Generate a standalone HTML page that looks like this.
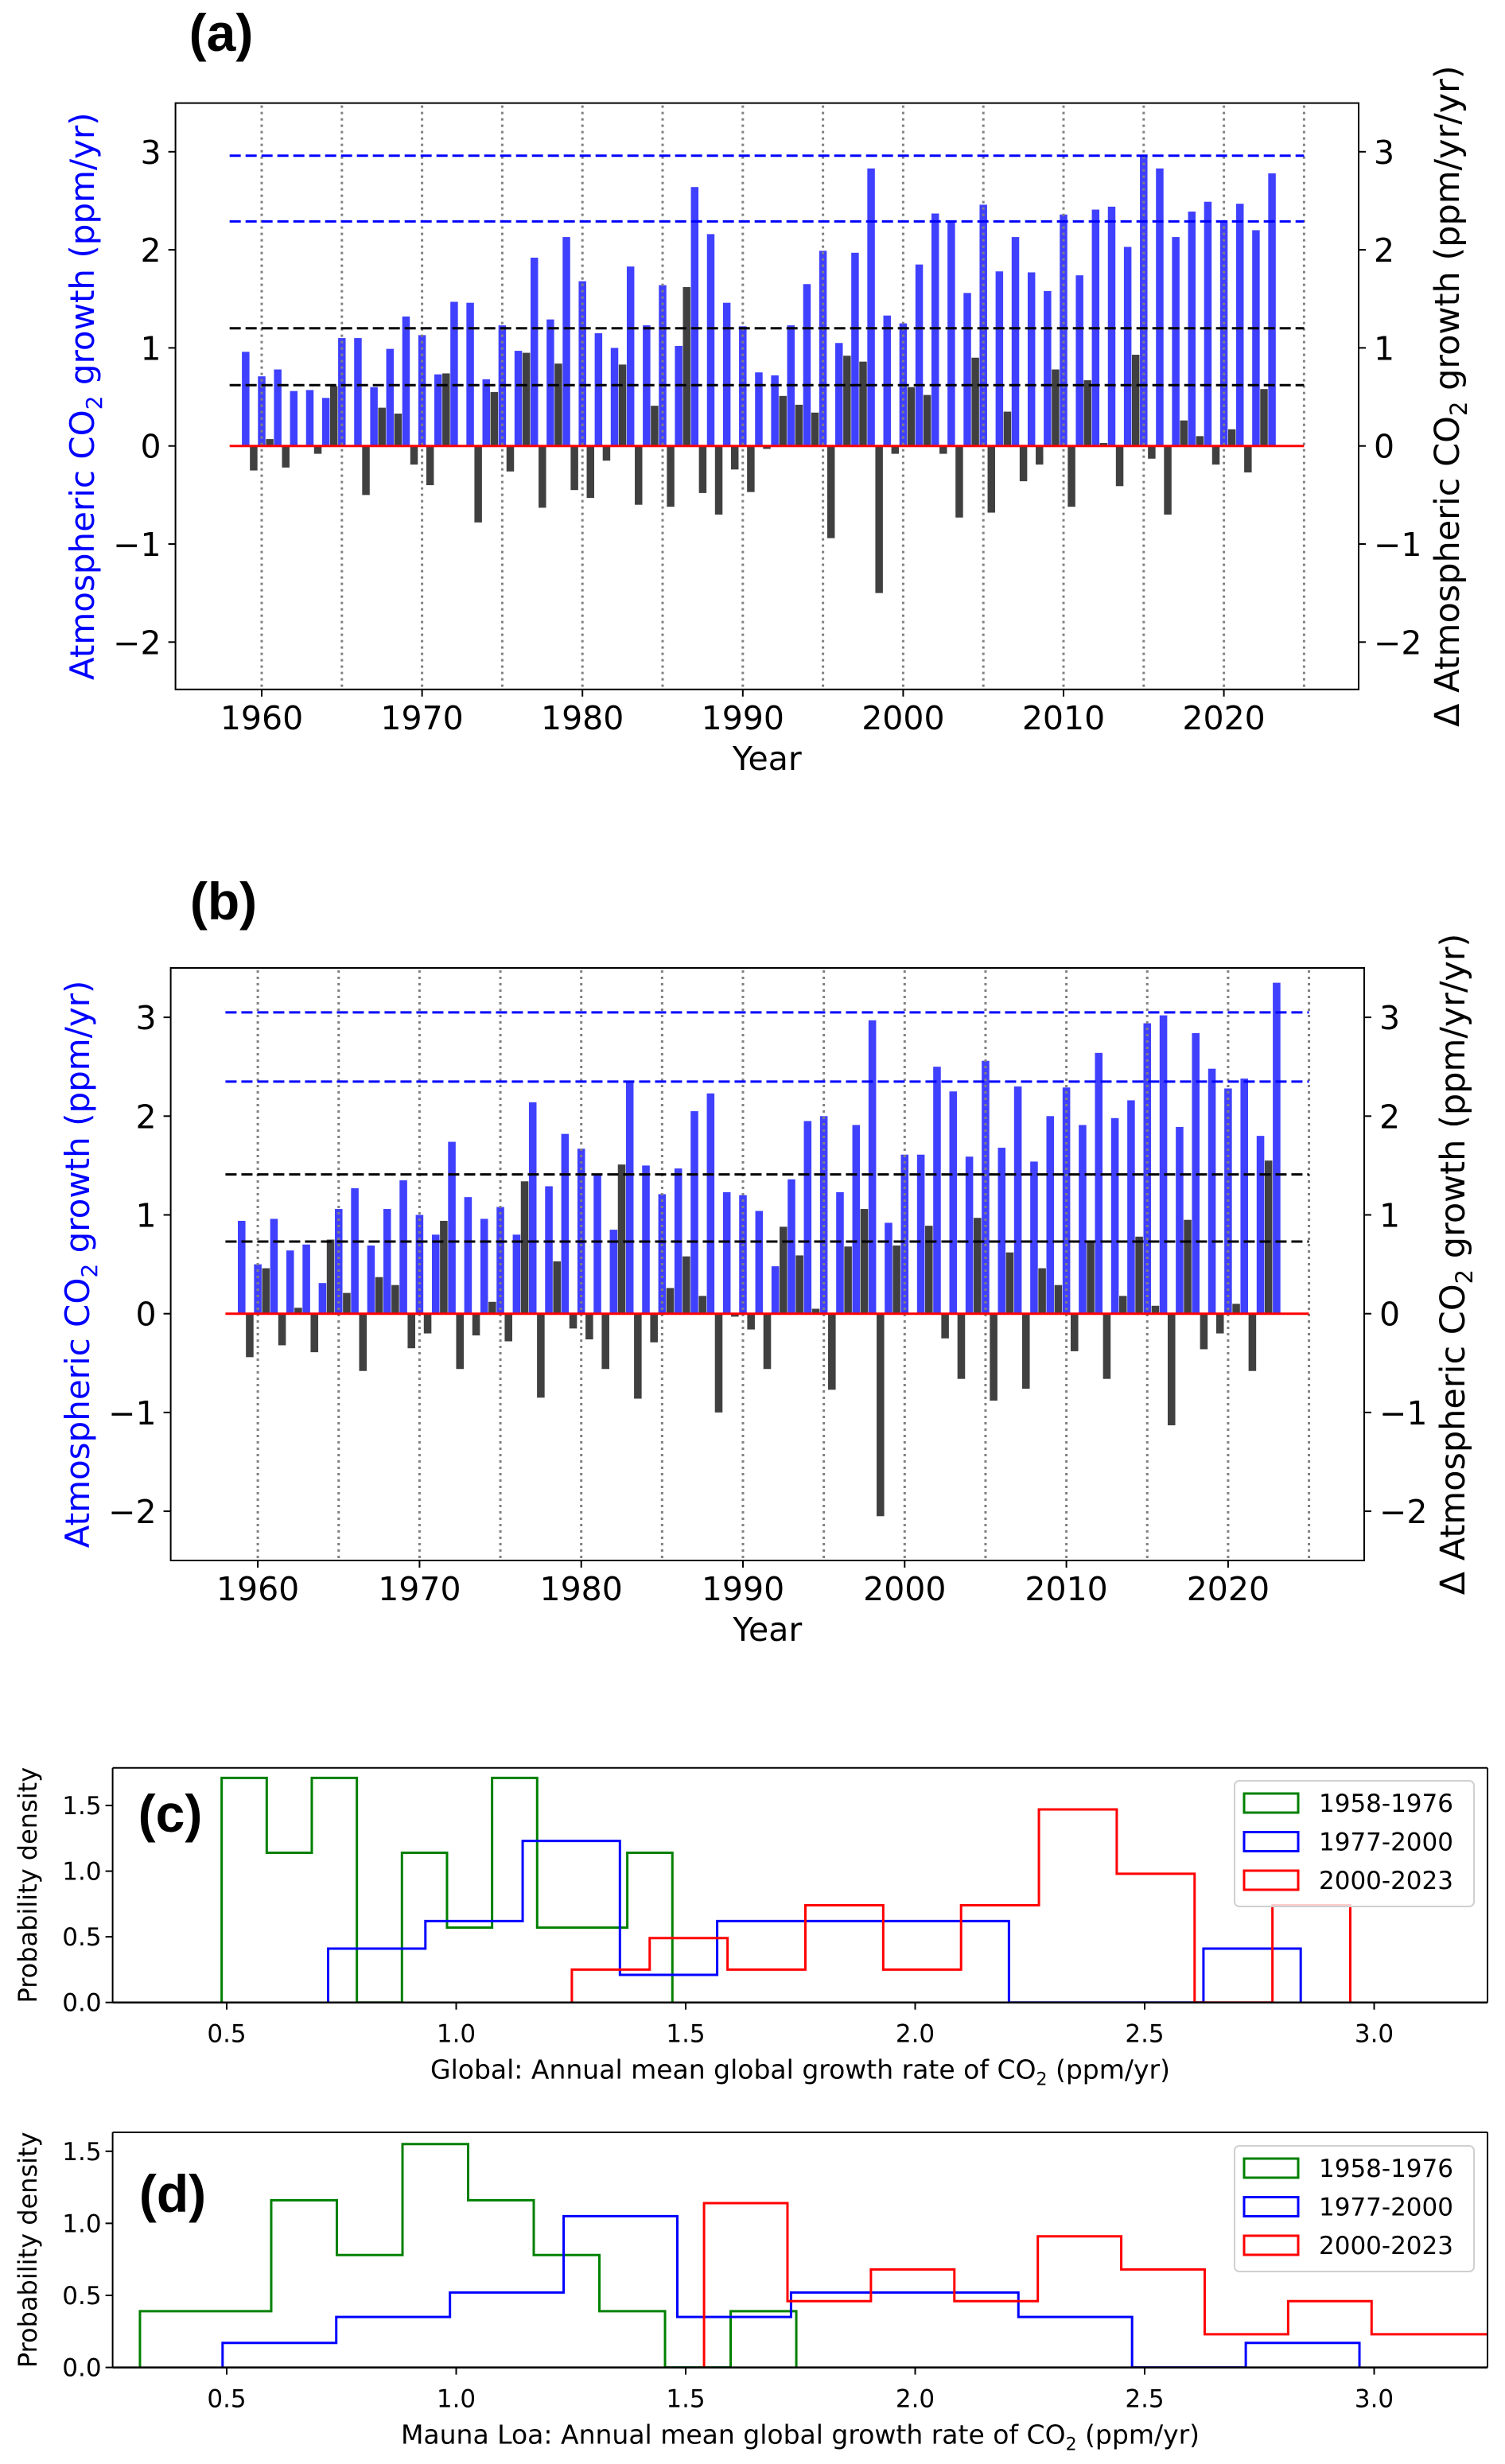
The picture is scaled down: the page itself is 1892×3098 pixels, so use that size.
<!DOCTYPE html>
<html><head><meta charset="utf-8"><style>
html,body{margin:0;padding:0;background:#fff}
svg{display:block;font-family:"DejaVu Sans","Liberation Sans",sans-serif}
</style></head><body>
<svg id="fig" xmlns="http://www.w3.org/2000/svg" width="1892" height="3098" viewBox="0 0 1892 3098">
<rect x="0" y="0" width="1892" height="3098" fill="#fff"/>
</svg>
<script>
// ---- Panel (a): global growth (ppm/yr), 1959..2023 ----
const yearsStart = 1959;
const growthA = [0.96,0.71,0.78,0.56,0.57,0.49,1.10,1.10,0.60,0.99,1.32,1.13,0.73,1.47,1.46,0.68,1.23,0.97,1.92,1.29,2.13,1.68,1.15,1.00,1.83,1.23,1.64,1.02,2.64,2.16,1.46,1.22,0.75,0.72,1.23,1.65,1.99,1.05,1.97,2.83,1.33,1.25,1.85,2.37,2.29,1.56,2.46,1.78,2.13,1.77,1.58,2.36,1.74,2.41,2.44,2.03,2.96,2.83,2.13,2.39,2.49,2.30,2.47,2.20,2.78];
const blueRefA = [2.96,2.29];
const blackRefA = [1.20,0.62];
// ---- Panel (b): Mauna Loa growth ----
const growthB = [0.94,0.50,0.96,0.64,0.70,0.31,1.06,1.27,0.69,1.06,1.35,1.00,0.80,1.74,1.18,0.96,1.08,0.80,2.14,1.29,1.82,1.67,1.41,0.85,2.36,1.50,1.21,1.47,2.05,2.23,1.23,1.20,1.04,0.48,1.36,1.95,2.00,1.23,1.91,2.97,0.92,1.61,1.61,2.50,2.25,1.59,2.56,1.68,2.30,1.54,2.00,2.29,1.91,2.64,1.98,2.16,2.94,3.02,1.89,2.84,2.48,2.28,2.38,1.80,3.35];
const blueRefB = [3.05,2.35];
const blackRefB = [1.41,0.73];
const yTicksBar = [-2,-1,0,1,2,3];
const xTicksBar = [1960,1970,1980,1990,2000,2010,2020];
// ---- Panel (c) histograms ----
const cGreenStart = 0.489, cGreenWidth = 0.0982;
const cGreen = [1.71,1.14,1.71,0,1.14,0.57,1.71,0.57,0.57,1.14];
const cBlueStart = 0.721, cBlueWidth = 0.2119;
const cBlue = [0.41,0.62,1.23,0.21,0.62,0.62,0.62,0,0,0.41];
const cRedStart = 1.252, cRedWidth = 0.1696;
const cRed = [0.25,0.49,0.25,0.74,0.25,0.74,1.47,0.98,0,0.74];
// ---- Panel (d) histograms ----
const dGreenStart = 0.311, dGreenWidth = 0.143;
const dGreen = [0.39,0.39,1.16,0.78,1.55,1.16,0.78,0.39,0,0.39];
const dBlueStart = 0.491, dBlueWidth = 0.2477;
const dBlue = [0.17,0.35,0.52,1.05,0.35,0.52,0.52,0.35,0,0.17];
const dRedStart = 1.540, dRedWidth = 0.1818;
const dRed = [1.14,0.46,0.68,0.46,0.91,0.68,0.23,0.46,0.23,0.23];
const histXTicks = [0.5,1.0,1.5,2.0,2.5,3.0];
const histYTicks = [0.0,0.5,1.0,1.5];
const legendLabels = ["1958-1976","1977-2000","2000-2023"];

const NS="http://www.w3.org/2000/svg";
const svg=document.getElementById('fig');
function mk(tag,attrs,parent){const e=document.createElementNS(NS,tag);for(const k in attrs)e.setAttribute(k,attrs[k]);(parent||svg).appendChild(e);return e;}
function txt(s,attrs,parent){const e=mk('text',attrs,parent);e.textContent=s;return e;}
function fmtMinus(v){return v<0?'\u2212'+Math.abs(v):String(v);}

function barPanel(P){
  const g=mk('g',{});
  
  
  const xs=y=>P.x0+(y-1960)*P.pxYr;
  const ys=v=>P.y0-v*P.pxU;
  const clipId=P.name+'-clip';
  const cp=mk('clipPath',{id:clipId},g);mk('rect',{x:P.L,y:P.T,width:P.R-P.L,height:P.B-P.T},cp);
  const plot=mk('g',{'clip-path':'url(#'+clipId+')'},g);
  const bw=0.47;
  P.growth.forEach((v,i)=>{
    const yr=yearsStart+i;
    const r=mk('rect',{x:xs(yr-bw/2),y:Math.min(ys(v),ys(0)),width:bw*P.pxYr,height:Math.abs(ys(v)-ys(0)),fill:'#4040ff'},plot);
    
    
  });
  const delta=P.growth.slice(1).map((v,i)=>v-P.growth[i]);
  delta.forEach((d,i)=>{
    const yr=yearsStart+i+0.5;
    const r=mk('rect',{x:xs(yr-bw/2),y:Math.min(ys(d),ys(0)),width:bw*P.pxYr,height:Math.abs(ys(d)-ys(0)),fill:'#404040'},plot);
    
    
  });
  for(let yr=1960;yr<=2025;yr+=5){
    const l=mk('line',{x1:xs(yr),x2:xs(yr),y1:P.T+3,y2:P.B-3,stroke:'#808080','stroke-width':3,'stroke-dasharray':'3 5'},plot);
    
    
  }
  P.blueRef.forEach((v,i)=>{
    const l=mk('line',{x1:xs(1958),x2:xs(2025),y1:ys(v),y2:ys(v),stroke:'#0000ff','stroke-width':3,'stroke-dasharray':'14 6'},plot);
    
    
  });
  P.blackRef.forEach((v,i)=>{
    const l=mk('line',{x1:xs(1958),x2:xs(2025),y1:ys(v),y2:ys(v),stroke:'#000','stroke-width':3,'stroke-dasharray':'14 6'},plot);
    
    
  });
  const z=mk('line',{x1:xs(1958),x2:xs(2025),y1:ys(0),y2:ys(0),stroke:'#ff0000','stroke-width':3},plot);
  
  
  const fr=mk('rect',{x:P.L,y:P.T,width:P.R-P.L,height:P.B-P.T,fill:'none',stroke:'#000','stroke-width':2},g);
  
  
  yTicksBar.forEach(v=>{
    mk('line',{x1:P.L-9,x2:P.L,y1:ys(v),y2:ys(v),stroke:'#000','stroke-width':2},g);
    mk('line',{x1:P.R,x2:P.R+9,y1:ys(v),y2:ys(v),stroke:'#000','stroke-width':2},g);
    const t1=txt(fmtMinus(v),{x:P.L-18,y:ys(v)+15,'font-size':41,'text-anchor':'end',fill:'#000'},g);
    
    
    const t2=txt(fmtMinus(v),{x:P.R+19,y:ys(v)+15,'font-size':41,'text-anchor':'start',fill:'#000'},g);
    
    
  });
  xTicksBar.forEach(yr=>{
    mk('line',{x1:xs(yr),x2:xs(yr),y1:P.B,y2:P.B+9,stroke:'#000','stroke-width':2},g);
    const t=txt(String(yr),{x:xs(yr),y:P.B+50,'font-size':41,'text-anchor':'middle',fill:'#000'},g);
    
    
  });
  const xl=txt('Year',{x:(P.L+P.R)/2,y:P.B+101,'font-size':41,'text-anchor':'middle',fill:'#000'},g);
  
  
  const cy=(P.T+P.B)/2;
  const yl=mk('text',{x:0,y:0,'font-size':42,'text-anchor':'middle',fill:'#0000ff',transform:`translate(${P.ylx},${cy}) rotate(-90)`},g);
  yl.innerHTML='Atmospheric CO<tspan font-size="28" dy="10">2</tspan><tspan dy="-10"> growth (ppm/yr)</tspan>';
  
  
  const yr2=mk('text',{x:0,y:0,'font-size':43,'text-anchor':'middle',fill:'#000',transform:`translate(${P.yrx},${cy}) rotate(-90)`},g);
  yr2.innerHTML='\u0394 Atmospheric CO<tspan font-size="29" dy="10">2</tspan><tspan dy="-10"> growth (ppm/yr/yr)</tspan>';
  
  
  const pl=txt(P.letter,{x:P.lx,y:P.ly,'font-size':66,'font-weight':'bold','text-anchor':'middle',fill:'#000','font-family':'Liberation Sans, sans-serif'},g);
  
  
}

barPanel({name:'panel-a',growth:growthA,blueRef:blueRefA,blackRef:blackRefA,L:220.6,R:1708,T:129.6,B:866.8,x0:329,pxYr:20.16,y0:560.7,pxU:123.3,ylx:118,yrx:1834,letter:'(a)',lx:278,ly:64});
barPanel({name:'panel-b',growth:growthB,blueRef:blueRefB,blackRef:blackRefB,L:214.6,R:1715,T:1217,B:1962,x0:324.1,pxYr:20.33,y0:1651.7,pxU:124.2,ylx:112,yrx:1841,letter:'(b)',lx:281,ly:1156});

function histPanel(P){
  const g=mk('g',{});
  
  
  const xs=v=>285+(v-0.5)*577;
  const ys=v=>P.y0-v*P.pxU;
  const L=141.6,R=1870;
  const clipId=P.name+'-clip';
  const cp=mk('clipPath',{id:clipId},g);mk('rect',{x:L,y:P.T,width:R-L,height:P.y0-P.T},cp);
  const plot=mk('g',{'clip-path':'url(#'+clipId+')'},g);
  const series=[[P.gS,P.gW,P.g,'#008000','green'],[P.bS,P.bW,P.b,'#0000ff','blue'],[P.rS,P.rW,P.r,'#ff0000','red']];
  series.forEach(([s,w,h,col,nm],si)=>{
    let d=`M${xs(s)},${ys(0)}`;
    h.forEach((v,i)=>{d+=` L${xs(s+i*w)},${ys(v)} L${xs(s+(i+1)*w)},${ys(v)}`;});
    d+=` L${xs(s+h.length*w)},${ys(0)}`;
    const p=mk('path',{d:d,fill:'none',stroke:col,'stroke-width':3},plot);
    
    
  });
  mk('line',{x1:L,x2:R,y1:P.T,y2:P.T,stroke:'#000','stroke-width':2},g);
  mk('line',{x1:L,x2:R,y1:P.y0,y2:P.y0,stroke:'#000','stroke-width':2.5},g);
  mk('line',{x1:L,x2:L,y1:P.T,y2:P.y0,stroke:'#000','stroke-width':2},g);
  mk('line',{x1:R,x2:R,y1:P.T,y2:P.y0,stroke:'#000','stroke-width':2},g);
  histXTicks.forEach(v=>{
    mk('line',{x1:xs(v),x2:xs(v),y1:P.y0,y2:P.y0+9,stroke:'#000','stroke-width':2},g);
    const t=txt(v.toFixed(1),{x:xs(v),y:P.y0+50,'font-size':31,'text-anchor':'middle',fill:'#000'},g);
    
    
  });
  histYTicks.forEach(v=>{
    mk('line',{x1:L-9,x2:L,y1:ys(v),y2:ys(v),stroke:'#000','stroke-width':2},g);
    const t=txt(v.toFixed(1),{x:L-14,y:ys(v)+11,'font-size':31,'text-anchor':'end',fill:'#000'},g);
    
    
  });
  const xl=mk('text',{x:1006,y:P.y0+96,'font-size':33,'text-anchor':'middle',fill:'#000'},g);
  xl.innerHTML=P.xlabel+' CO<tspan font-size="22" dy="8">2</tspan><tspan dy="-8"> (ppm/yr)</tspan>';
  
  
  const yl=txt('Probability density',{x:0,y:0,'font-size':32,'text-anchor':'middle',fill:'#000',transform:`translate(46,${(P.T+P.y0)/2}) rotate(-90)`},g);
  
  
  const pl=txt(P.letter,{x:P.lx,y:P.ly,'font-size':66,'font-weight':'bold','text-anchor':'middle',fill:'#000','font-family':'Liberation Sans, sans-serif'},g);
  
  
  const lg=mk('g',{},g);
  
  
  mk('rect',{x:1552,y:P.legT,width:301,height:158,rx:6,fill:'#fff','fill-opacity':0.8,stroke:'#d0d0d0','stroke-width':2},lg);
  const cols=['#008000','#0000ff','#ff0000'];
  legendLabels.forEach((s,i)=>{
    const cy=P.legT+28+i*48.5;
    const e=mk('g',{},lg);
    
    
    mk('rect',{x:1564,y:cy-12,width:68,height:24,fill:'none',stroke:cols[i],'stroke-width':3},e);
    txt(s,{x:1658,y:cy+11,'font-size':31,fill:'#000'},e);
  });
}
histPanel({name:'panel-c',T:2222.7,y0:2517.7,pxU:165.1,gS:cGreenStart,gW:cGreenWidth,g:cGreen,bS:cBlueStart,bW:cBlueWidth,b:cBlue,rS:cRedStart,rW:cRedWidth,r:cRed,xlabel:'Global: Annual mean global growth rate of',letter:'(c)',lx:214,ly:2303,legT:2239});
histPanel({name:'panel-d',T:2681,y0:2976.6,pxU:181.2,gS:dGreenStart,gW:dGreenWidth,g:dGreen,bS:dBlueStart,bW:dBlueWidth,b:dBlue,rS:dRedStart,rW:dRedWidth,r:dRed,xlabel:'Mauna Loa: Annual mean global growth rate of',letter:'(d)',lx:217,ly:2781,legT:2698});
</script>
</body></html>
